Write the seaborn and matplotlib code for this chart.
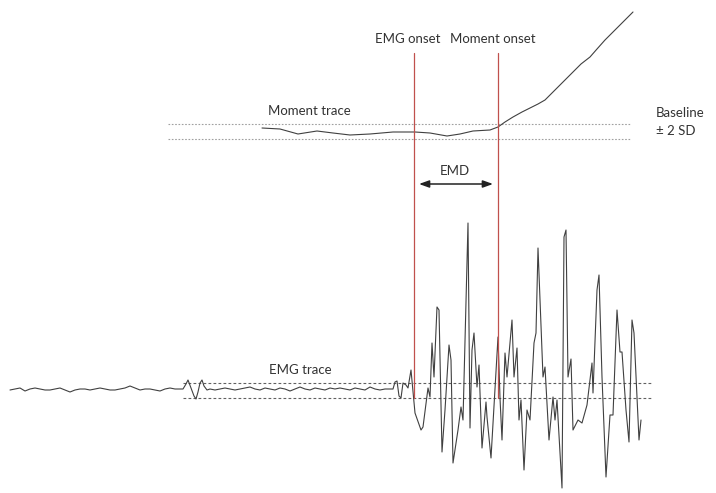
import numpy as np
import pandas as pd
import matplotlib
matplotlib.use("Agg")
import matplotlib.pyplot as plt
import seaborn as sns

# ---- data (diagram units: horizontal = time, vertical = signal, image-like) ----
moment_x = [262, 280, 298, 317, 333, 350, 370, 393, 415, 430, 447, 460, 473, 490,
            498, 505, 513, 522, 530, 538, 545, 551, 557, 565, 573, 581, 590, 597,
            605, 612, 620, 627, 633]
moment_y = [128, 129, 134, 131, 133, 135, 134, 132, 132, 133, 136, 134, 131, 130,
            127, 122, 117, 112, 108, 104, 100, 94, 88, 80, 72, 64, 57, 49,
            40, 33, 25, 18, 12]

emg_low1_x = list(range(10, 185, 5))
emg_low1_y = [390, 389, 388, 391, 389, 388, 389, 390, 390, 389, 388, 390, 392, 390, 389,
              389, 390, 389, 388, 389, 390, 390, 389, 388, 386, 388, 390, 389, 389, 390,
              391, 389, 388, 389, 389]
emg_blip_x = [183, 186, 188, 191, 194, 196, 198, 200, 202, 204, 207]
emg_blip_y = [389, 384, 380, 388, 396, 399, 392, 383, 380, 386, 390]
emg_low2_x = list(range(210, 395, 5))
emg_low2_y = [389, 390, 389, 388, 389, 390, 389, 388, 387, 389, 390, 388, 389, 390, 388,
              389, 391, 389, 387, 389, 390, 388, 389, 390, 388, 389, 388, 389, 390, 388,
              389, 390, 387, 389, 390, 389, 389]
emg_burst_x = [393, 395, 397, 399, 401, 403, 406, 408, 411, 415, 421, 423, 428, 430, 432,
               434, 437, 439, 442, 445, 449, 451, 453, 458, 461, 463, 468, 470, 472, 474,
               477, 479, 482, 486, 487, 491, 498, 500, 502, 505, 507, 512, 514, 517, 519,
               521, 524, 527, 530, 534, 536, 538, 543, 545, 549, 553, 555, 557, 562, 564,
               566, 568, 571, 573, 578, 582, 587, 592, 593, 597, 599, 602, 606, 610, 613,
               617, 620, 622, 626, 629, 632, 634, 639, 641]
emg_burst_y = [389, 382, 381, 396, 398, 383, 385, 388, 370, 413, 430, 427, 388, 397, 343,
               377, 307, 310, 452, 410, 345, 360, 463, 430, 407, 420, 223, 428, 350, 333,
               387, 365, 448, 402, 417, 458, 337, 398, 440, 353, 377, 320, 377, 348, 420,
               400, 470, 410, 420, 343, 333, 248, 377, 367, 440, 397, 420, 400, 488, 237,
               230, 377, 359, 430, 420, 423, 405, 363, 393, 290, 275, 377, 477, 415, 415,
               310, 352, 352, 410, 442, 320, 333, 440, 420]

emg_onset_x = 414
moment_onset_x = 498
moment_band = [124, 139]
emg_band = [383, 398]

# ---- figure ----
sns.set_theme(style="white")
plt.rcParams['font.family'] = ['Lato', 'DejaVu Sans']

fig = plt.figure(figsize=(7.16, 4.93), dpi=100)
ax = fig.add_axes([0, 0, 1, 1])
ax.set_xlim(0, 716)
ax.set_ylim(493, 0)
ax.axis('off')

trace_col = '#404040'
red = '#c0504d'

# baselines
for yv in moment_band:
    ax.plot([168, 630], [yv, yv], color='#a0a0a0', lw=0.8, ls=(0, (1.5, 1.5)))
for yv in emg_band:
    ax.plot([183, 652], [yv, yv], color='#606060', lw=0.8, ls=(0, (2.5, 2)))

# traces
mom = pd.DataFrame({'x': moment_x, 'y': moment_y})
sns.lineplot(data=mom, x='x', y='y', ax=ax, color=trace_col, lw=0.8,
             sort=False, estimator=None)

emg = pd.DataFrame({'x': emg_low1_x + emg_blip_x + emg_low2_x + emg_burst_x,
                    'y': emg_low1_y + emg_blip_y + emg_low2_y + emg_burst_y})
sns.lineplot(data=emg, x='x', y='y', ax=ax, color=trace_col, lw=0.8,
             sort=False, estimator=None)

# onset lines
ax.plot([emg_onset_x, emg_onset_x], [53, 398], color=red, lw=0.9)
ax.plot([moment_onset_x, moment_onset_x], [53, 398], color=red, lw=0.9)

# EMD arrow
ax.annotate('', xy=(419, 184), xytext=(493, 184),
            arrowprops=dict(arrowstyle='<|-|>,head_length=0.5,head_width=0.18',
                            color='#222222', lw=1.1, shrinkA=0, shrinkB=0))

ax.set_xlabel('')
ax.set_ylabel('')

fs = 9.5
tc = '#333333'
ax.text(408, 39, 'EMG onset', ha='center', va='center', fontsize=fs, color=tc)
ax.text(493, 39, 'Moment onset', ha='center', va='center', fontsize=fs, color=tc)
ax.text(268, 111, 'Moment trace', ha='left', va='center', fontsize=fs, color=tc)
ax.text(656, 113, 'Baseline', ha='left', va='center', fontsize=fs, color=tc)
ax.text(656, 131, '± 2 SD', ha='left', va='center', fontsize=fs, color=tc)
ax.text(455, 171, 'EMD', ha='center', va='center', fontsize=fs, color=tc)
ax.text(300, 370, 'EMG trace', ha='center', va='center', fontsize=fs, color=tc)

fig.savefig('out.png', dpi=100)
